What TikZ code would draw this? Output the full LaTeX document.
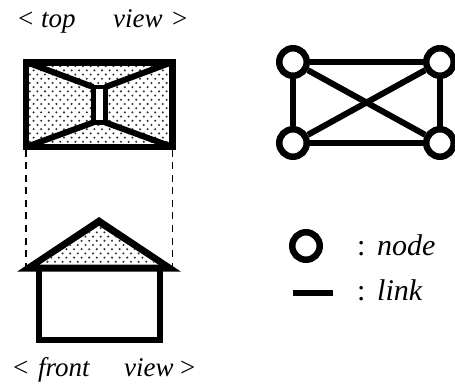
\documentclass[tikz,border=0pt]{standalone}
\usepackage{fontspec}
\setmainfont{Liberation Serif}
\tikzset{
  wall/.style={draw=black,line width=6.5pt,line join=miter},
  beam/.style={draw=black,line width=6pt},
  core/.style={draw=black,line width=4.8pt},
  netnode/.style={circle,draw=black,fill=white,line width=6.5pt,minimum size=27.5pt,inner sep=0pt},
  netlink/.style={draw=black,line width=6pt},
  label/.style={inner sep=0pt,anchor=base west,font=\fontsize{27}{30}\selectfont\itshape},
  colon/.style={inner sep=0pt,anchor=base west,font=\fontsize{27}{30}\selectfont},
  biglabel/.style={inner sep=0pt,anchor=base west,font=\fontsize{30}{30}\selectfont\itshape},
  bigcolon/.style={inner sep=0pt,anchor=base west,font=\fontsize{30}{30}\selectfont},
  guide/.style={draw=black,line width=1.9pt,dash pattern=on 7pt off 5.5pt}
}
\newcommand{\dotfield}[4]{%
  \foreach \i in {0,...,30}{\foreach \j in {0,...,30}{%
    \pgfmathsetmacro{\dx}{#1+\i*7.6+mod(\j,2)*3.8}%
    \pgfmathsetmacro{\dy}{#2+\j*4.2}%
    \pgfmathparse{(\dx<#3+1)&&(\dy<#4+1)?1:0}%
    \ifnum\pgfmathresult=1 \fill[black!80] (\dx,\dy) circle (1.15pt);\fi
  }}}
\begin{document}
\begin{tikzpicture}[x=1pt,y=-1pt]
\useasboundingbox (0,0) rectangle (455,390);
% top view
\begin{scope}
  \clip (26,62) rectangle (172.5,147);
  \dotfield{26}{62}{172.5}{147}
\end{scope}
\fill[white] (93.2,87) rectangle (105.5,122.5);
\draw[beam] (26,62) -- (93.2,87);
\draw[beam] (172.5,62) -- (105.5,87);
\draw[beam] (26,147) -- (93.2,122.5);
\draw[beam] (172.5,147) -- (105.5,122.5);
\draw[core] (93.2,87) rectangle (105.5,122.5);
\draw[wall] (26,62.5) rectangle (172.5,147);
% guides
\coordinate (gl1) at (26,150); \coordinate (gl2) at (26,266);
\coordinate (gr1) at (172.5,150); \coordinate (gr2) at (172.5,266);
\draw[guide] (gl1) -- (gl2);
\draw[guide] (gr1) -- (gr2);
% front view
\draw[wall] (39,268) -- (39,340) -- (160,340) -- (160,268);
\fill[black] (17,271.7) -- (99,217) -- (181,271.7) -- cycle;
\fill[white] (40,264.5) -- (99,226) -- (158,264.5) -- cycle;
\begin{scope}
  \clip (40,264.5) -- (99,226) -- (158,264.5) -- cycle;
  \dotfield{36}{224}{160}{266}
\end{scope}
% network
\node[netnode] (a) at (293,62) {};
\node[netnode] (b) at (440,62) {};
\node[netnode] (c) at (293,143) {};
\node[netnode] (d) at (440,143) {};
\draw[netlink] (a) -- (b);
\draw[netlink] (c) -- (d);
\draw[netlink] (a) -- (c);
\draw[netlink] (b) -- (d);
\draw[netlink] (a) -- (d);
\draw[netlink] (b) -- (c);
% legend
\node[netnode] (ln) at (306,246) {};
\coordinate (l1) at (293,293); \coordinate (l2) at (333,293);
\draw[draw=black,line width=6.5pt] (l1) -- (l2);
\node[bigcolon] (nc) at (357,255) {:};
\node[biglabel] (nt) at (377,255) {node};
\node[bigcolon] (lc) at (357,300) {:};
\node[biglabel] (lt) at (377,300) {link};
% captions
\node[colon] (t1) at (18,28) {<};
\node[label] (t2) at (41,28) {top};
\node[label] (t3) at (113,28) {view};
\node[colon] (t4) at (172,28) {>};
\node[colon] (f1) at (13,376) {<};
\node[label] (f2) at (38,376) {front};
\node[label] (f3) at (124,376) {view};
\node[colon] (f4) at (180,376) {>};
\end{tikzpicture}
\end{document}
